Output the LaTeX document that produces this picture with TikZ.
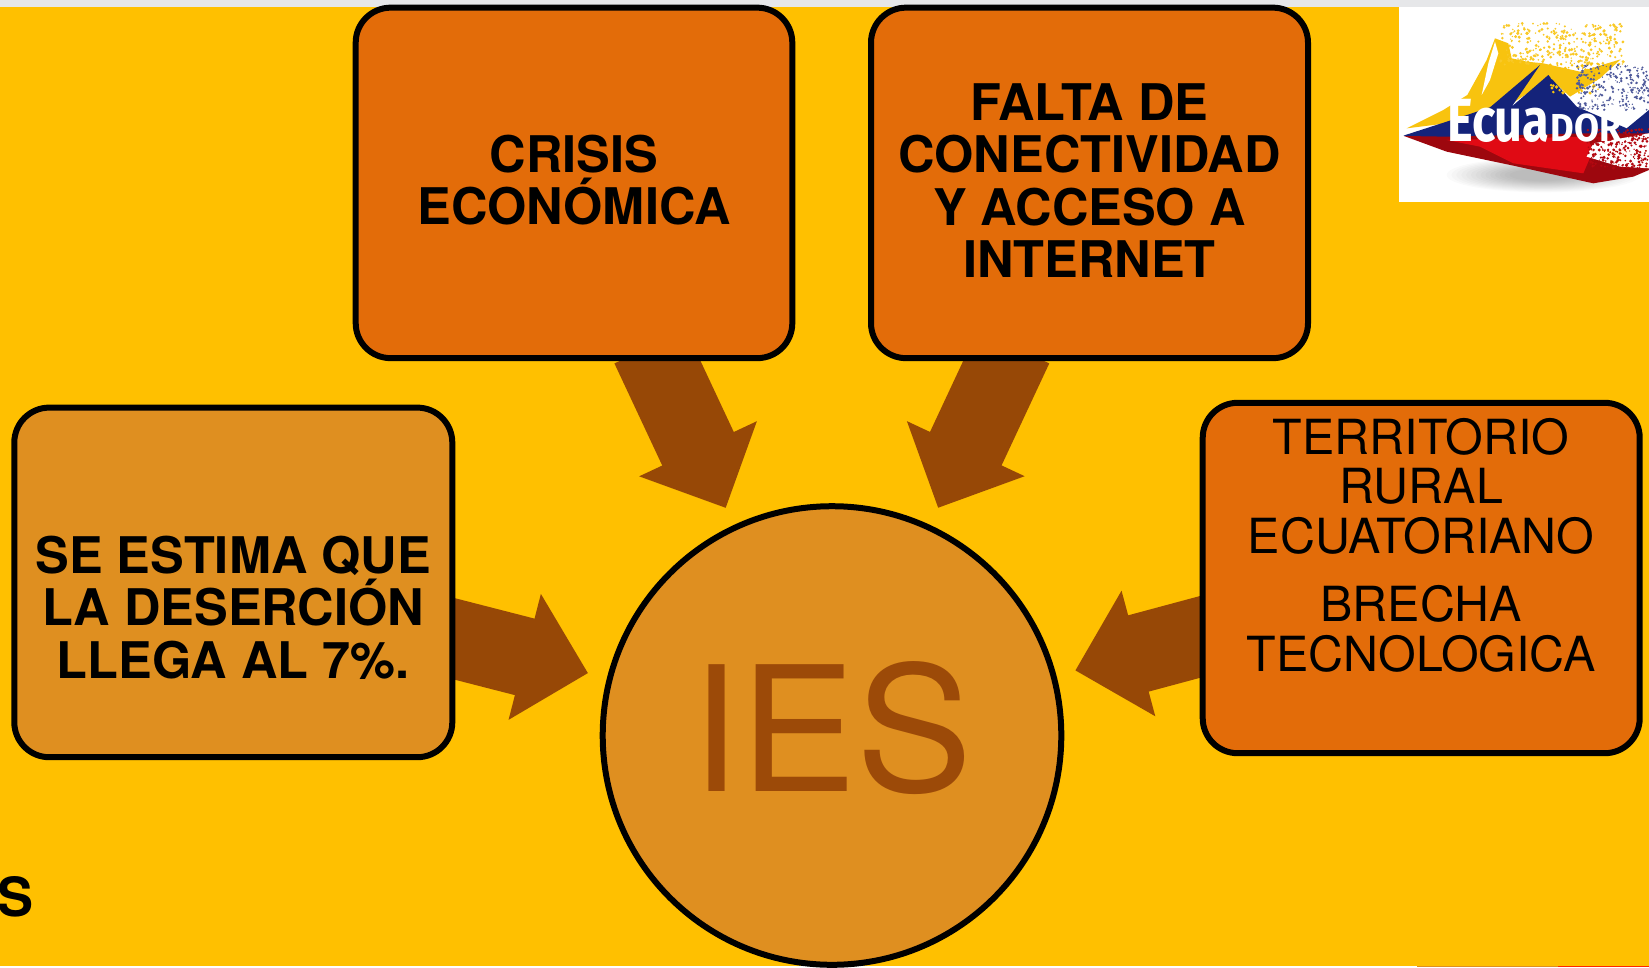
\documentclass[tikz,border=0pt]{standalone}
\usepackage{fontspec}
\usepackage{graphicx}
\setmainfont{TeX Gyre Heros}
\newfontfamily\logofont{Fira Sans}
\usetikzlibrary{arrows.meta}
\pgfdeclarelayer{back}
\pgfdeclarelayer{arrowlayer}
\pgfsetlayers{back,arrowlayer,main}
\definecolor{bgyellow}{HTML}{FFC000}
\definecolor{topgrey}{HTML}{E6E7E9}
\definecolor{boxorange}{HTML}{E36C09}
\definecolor{softorange}{HTML}{DF8F20}
\definecolor{arrowbrown}{HTML}{974806}
\definecolor{iesbrown}{HTML}{9C4A08}
\definecolor{flagblue}{HTML}{14237A}
\definecolor{flagyellow}{HTML}{F8C30F}
\definecolor{flagred}{HTML}{E00A14}
\newcommand{\boxtxt}[2]{\raisebox{#1}[0pt][0pt]{\vbox{\hsize=430pt\centering #2\endgraf}}}
\tikzset{
  roundbox/.style={draw=black,line width=6pt,rounded corners=35pt,inner sep=0pt,
    minimum width=#1},
  boldtext/.style={font=\fontsize{50.5}{52.5}\selectfont\bfseries,text=black},
  plaintext/.style={font=\fontsize{48.4}{49.8}\selectfont,text=black},
  blockarrow/.style={draw=arrowbrown,line width=79pt,
    -{Triangle[length=65.4pt,width=126pt,sep=0pt]},shorten <=-16pt},
}
\begin{document}
\begin{tikzpicture}[x=1pt,y=-1pt]
\useasboundingbox (0,0) rectangle (1649,967);
\begin{pgfonlayer}{back}
  \fill[bgyellow] (0,0) rectangle (1649,967);
  \fill[topgrey] (0,0) rectangle (1649,7);
  \fill[white] (0,966) rectangle (1649,967);
  \fill[softorange] (1417,966) rectangle (1558,967);
  \fill[red!70!orange] (1558,966) rectangle (1649,967);
\end{pgfonlayer}

\node[roundbox=436.6pt,minimum height=350.5pt,fill=boxorange,boldtext] (crisis) at (574,182.9)
  {\boxtxt{-41.7pt}{CRISIS\\ECONÓMICA}};
\node[roundbox=437pt,minimum height=350.5pt,fill=boxorange,boldtext] (falta) at (1089.5,182.9)
  {\boxtxt{-94.7pt}{FALTA DE\\CONECTIVIDAD\\Y ACCESO A\\INTERNET}};
\node[roundbox=438pt,minimum height=349.6pt,fill=softorange,boldtext] (deser) at (233.3,582.4)
  {\boxtxt{-95.6pt}{SE ESTIMA QUE\\LA DESERCIÓN\\LLEGA AL 7\%.}};
\node[roundbox=437pt,minimum height=350.4pt,fill=boxorange,plaintext] (rural) at (1421.2,578)
  {\boxtxt{-93.5pt}{TERRITORIO\\RURAL\\ECUATORIANO\\[18.2pt]BRECHA\\TECNOLOGICA}};
\node[circle,draw=black,line width=6pt,fill=softorange,inner sep=0pt,minimum size=458.6pt,
  font=\fontsize{174}{180}\selectfont,text=iesbrown] (ies) at (832,735.5)
  {\raisebox{-55.5pt}[0pt][0pt]{IES}};
\node[anchor=base east,inner sep=0pt,font=\fontsize{54}{56}\selectfont\bfseries] (stray) at (34,916) {S};

\begin{pgfonlayer}{arrowlayer}
  \draw[blockarrow,shorten >=18.8pt] (crisis) -- (ies);
  \draw[blockarrow,shorten >=18.8pt] (falta) -- (ies);
  \draw[blockarrow,shorten >=19.5pt] (deser) -- (ies);
  \draw[blockarrow,shorten >=19.5pt] (rural) -- (ies);
\end{pgfonlayer}

% logo picture
\begin{scope}
  \clip (1399,7) rectangle (1649,202);
  \fill[white] (1399,7) rectangle (1649,202);
  \begin{scope}[shift={(1380,0)},x=0.3333pt,y=-0.3333pt]
    % soft shadow
    \foreach \s in {1.0,0.95,...,0.3}{
      \fill[black,opacity=0.018] (490,525) ellipse [x radius=290*\s,y radius=52*\s];
    }
    % yellow
    \fill[flagyellow] (80,385) -- (190,330) -- (262,285) -- (320,180) -- (345,115) -- (385,130)
      -- (395,175) -- (440,185) -- (490,190) -- (600,215) -- (722,178) -- (660,235) -- (570,290)
      -- (510,235) -- (375,325) -- (200,370) -- cycle;
    \fill[white] (345,125) -- (325,190) -- (305,285) -- (330,240) -- (355,160) -- cycle;
    % blue
    \fill[flagblue] (70,407) -- (200,365) -- (330,322) -- (480,195) -- (395,320) -- (505,225)
      -- (590,320) -- (740,385) -- (807,330) -- (807,400) -- (600,420) -- (200,420) -- cycle;
    % red
    \fill[flagred!70!black] (72,408) -- (200,410) -- (620,400) -- (807,400) -- (807,510) -- (760,530)
      -- (640,550) -- (400,497) -- (200,455) -- cycle;
    \fill[flagred] (200,420) -- (620,410) -- (640,450) -- (610,520) -- (400,490) -- (300,440) -- cycle;
    \fill[white] (640,430) -- (807,400) -- (807,505) -- (720,500) -- (620,470) -- cycle;
    % speckles
    \pgfmathsetseed{4711}
    \foreach \i in {1,...,320}{
      \pgfmathsetmacro{\px}{360+rnd*370}
      \pgfmathsetmacro{\py}{70+rnd*125}
      \fill[flagyellow!90!white] (\px,\py) circle [radius=2+rnd*3];
    }
    \foreach \i in {1,...,90}{
      \pgfmathsetmacro{\px}{510+rnd*150}
      \pgfmathsetmacro{\py}{190+rnd*90}
      \fill[flagyellow] (\px,\py) circle [radius=2+rnd*4];
    }
    \foreach \i in {1,...,260}{
      \pgfmathsetmacro{\px}{590+rnd*217}
      \pgfmathsetmacro{\py}{195+rnd*135}
      \fill[flagblue!75!white] (\px,\py) circle [radius=1.5+rnd*3];
    }
    \foreach \i in {1,...,260}{
      \pgfmathsetmacro{\px}{620+rnd*187}
      \pgfmathsetmacro{\py}{385+rnd*120}
      \fill[flagred!80!black] (\px,\py) circle [radius=1.5+rnd*3.5];
    }
  \end{scope}
  \node[anchor=base west,inner sep=0pt,text=white,
    font=\logofont\bfseries\fontsize{61}{62}\selectfont] (logotext) at (1447,141.5)
    {\scalebox{0.8}[1]{E\kern-1pt cua}\kern1pt\scalebox{0.93}[1]{\fontsize{39}{40}\selectfont DOR}};
\end{scope}
\end{tikzpicture}
\end{document}
